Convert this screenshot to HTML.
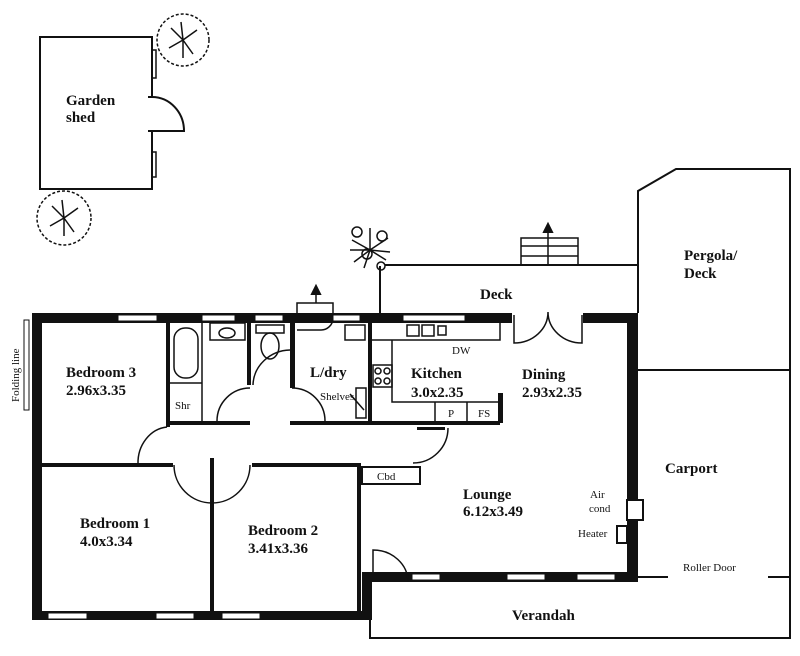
<!DOCTYPE html>
<html><head><style>
html,body{margin:0;padding:0;background:#fff;}
svg{display:block}
text{font-family:"Liberation Serif",serif;font-weight:bold;fill:#111;}
.s{font-weight:normal;font-size:11px}
</style></head><body>
<svg width="800" height="656" viewBox="0 0 800 656" xmlns="http://www.w3.org/2000/svg">
<g fill="none" stroke="#111" stroke-width="2">
<!-- garden shed -->
<path d="M152 97 V37 H40 V189 H152 V131"/>
<rect x="152" y="50" width="4" height="28" stroke-width="1.5"/>
<rect x="152" y="152" width="4" height="25" stroke-width="1.5"/>
<path d="M148 97 H152 A32 34 0 0 1 184 131 H148"/>
<!-- trees -->
<circle cx="183" cy="40" r="26" stroke-width="1.5" stroke-dasharray="3 2"/>
<path d="M183 40 l-12 -12 M183 40 l14 -10 M183 40 l-14 8 M183 40 l10 14 M183 40 l-2 -18 M183 40 l0 18" stroke-width="1.5"/>
<circle cx="64" cy="218" r="27" stroke-width="1.5" stroke-dasharray="3 2"/>
<path d="M64 218 l-12 -12 M64 218 l14 -10 M64 218 l-14 8 M64 218 l10 14 M64 218 l-2 -18 M64 218 l0 18" stroke-width="1.5"/>
<!-- palm -->
<path d="M370 250 l-18 -10 M370 250 l18 -12 M370 250 l-16 12 M370 250 l16 10 M370 250 l0 -22 M370 250 l-6 18 M370 250 l-20 0 M370 250 l20 2" stroke-width="1.5"/>
<circle cx="357" cy="232" r="5" stroke-width="1.5"/><circle cx="382" cy="236" r="5" stroke-width="1.5"/><circle cx="367" cy="254" r="5" stroke-width="1.5"/><circle cx="381" cy="266" r="4" stroke-width="1.5"/>
<!-- deck / pergola -->
<path d="M380 266 V313 M385 265 H638 V191 L676 169 H790 V638 H370 V582"/>
<path d="M638 191 V313 M638 370 H790"/>
<path d="M638 577 H668 M768 577 H790"/>
<!-- steps -->
<path d="M521 265 V238 H578 V265 M521 246 H578 M521 256 H578" stroke-width="1.5"/>
<path d="M548 265 V228" stroke-width="1.5"/><path d="M544 232 L548 224 L552 232 Z" fill="#111"/>
<!-- laundry door top -->
<path d="M297 313 V303 H333 V313" stroke-width="1.5"/><path d="M316 303 V290" stroke-width="1.5"/><path d="M312 294 L316 286 L320 294Z" fill="#111"/>
<path d="M297 330 H320 A12 12 0 0 0 333 318" stroke-width="1.5"/>
</g>
<!-- thick walls -->
<g fill="#111">
<rect x="32" y="313" width="480" height="10"/>
<rect x="583" y="313" width="55" height="10"/>
<rect x="32" y="313" width="10" height="307"/>
<rect x="32" y="611" width="340" height="9"/>
<rect x="362" y="572" width="10" height="48"/>
<rect x="627" y="313" width="11" height="269"/>
<rect x="372" y="572" width="266" height="10"/>
<rect x="166" y="323" width="4" height="104"/>
<rect x="247" y="323" width="4" height="62"/>
<rect x="290" y="323" width="5" height="65"/>
<rect x="368" y="323" width="4" height="100"/>
<rect x="498" y="393" width="5" height="30"/>
<rect x="166" y="421" width="84" height="4"/>
<rect x="290" y="421" width="210" height="4"/>
<rect x="40" y="463" width="133" height="4"/>
<rect x="252" y="463" width="108" height="4"/>
<rect x="210" y="458" width="4" height="153"/>
<rect x="357" y="463" width="4" height="150"/>
<rect x="417" y="427" width="28" height="3"/>
</g>
<!-- windows -->
<g fill="#fff" stroke="#111" stroke-width="1">
<rect x="118" y="315" width="39" height="6"/><rect x="202" y="315" width="33" height="6"/><rect x="255" y="315" width="28" height="6"/><rect x="333" y="315" width="27" height="6"/><rect x="403" y="315" width="62" height="6"/>
<rect x="48" y="613" width="39" height="6"/><rect x="156" y="613" width="38" height="6"/><rect x="222" y="613" width="38" height="6"/>
<rect x="412" y="574" width="28" height="6"/><rect x="507" y="574" width="38" height="6"/><rect x="577" y="574" width="38" height="6"/>
<rect x="24" y="320" width="5" height="90"/>
</g>
<g fill="none" stroke="#111" stroke-width="1.5">
<!-- bath -->
<path d="M170 383 H202"/><path d="M202 323 V423"/>
<rect x="174" y="328" width="24" height="50" rx="11"/>
<!-- basin -->
<rect x="210" y="323" width="35" height="17"/><ellipse cx="227" cy="333" rx="8" ry="5"/>
<!-- toilet -->
<rect x="256" y="325" width="28" height="8"/><ellipse cx="270" cy="346" rx="9" ry="13"/>
<!-- laundry tub -->
<rect x="345" y="325" width="20" height="15"/>
<rect x="356" y="388" width="10" height="30"/><path d="M350 394 L364 410"/>
<!-- kitchen -->
<path d="M372 340 H500 V323 M392 340 V402 H500 M435 402 V423 M467 402 V423"/>
<rect x="407" y="325" width="12" height="11"/><rect x="422" y="325" width="12" height="11"/><rect x="438" y="326" width="8" height="9"/>
<rect x="373" y="365" width="19" height="22"/>
<circle cx="378" cy="371" r="3"/><circle cx="387" cy="371" r="3"/><circle cx="378" cy="381" r="3"/><circle cx="387" cy="381" r="3"/>
<!-- dining doors -->
<path d="M514 315 V343 A34 31 0 0 0 548 312 A34 31 0 0 0 582 343 V315"/>
<!-- corridor doors -->
<path d="M217 421 A33 33 0 0 1 250 388"/>
<path d="M253 385 A38 36 0 0 1 290 350"/>
<path d="M292 388 A33 33 0 0 1 325 421"/>
<path d="M138 464 A32 36 0 0 1 167 427"/>
<path d="M174 465 A38 38 0 0 0 250 465"/>
<path d="M413 463 A35 35 0 0 0 448 428"/>
<rect x="362" y="467" width="58" height="17" stroke-width="2"/>
<!-- lounge door -->
<path d="M373 572 V550 A35 32 0 0 1 408 582"/>
<!-- air cond / heater -->
<rect x="627" y="500" width="16" height="20" fill="#fff" stroke-width="2"/>
<rect x="617" y="526" width="10" height="17" fill="#fff" stroke-width="2"/>
</g>
<!-- labels -->
<g font-size="15">
<text x="66" y="105">Garden</text><text x="66" y="122">shed</text>
<text x="684" y="260">Pergola/</text><text x="684" y="278">Deck</text>
<text x="480" y="299">Deck</text>
<text x="66" y="377">Bedroom 3</text><text x="66" y="395">2.96x3.35</text>
<text x="310" y="377">L/dry</text>
<text x="411" y="378">Kitchen</text><text x="411" y="397">3.0x2.35</text>
<text x="522" y="379">Dining</text><text x="522" y="397">2.93x2.35</text>
<text x="665" y="473">Carport</text>
<text x="463" y="499">Lounge</text><text x="463" y="516">6.12x3.49</text>
<text x="80" y="528">Bedroom 1</text><text x="80" y="546">4.0x3.34</text>
<text x="248" y="535">Bedroom 2</text><text x="248" y="553">3.41x3.36</text>
<text x="512" y="620">Verandah</text>
</g>
<text class="s" x="175" y="409">Shr</text>
<text class="s" x="320" y="400">Shelves</text>
<text class="s" x="452" y="354">DW</text>
<text class="s" x="448" y="417">P</text>
<text class="s" x="478" y="417">FS</text>
<text class="s" x="377" y="480">Cbd</text>
<text class="s" x="590" y="498">Air</text><text class="s" x="589" y="512">cond</text>
<text class="s" x="578" y="537">Heater</text>
<text class="s" x="683" y="571">Roller Door</text>
<text class="s" x="0" y="0" font-size="10" transform="translate(19,402) rotate(-90)">Folding line</text>
</svg>
</body></html>
